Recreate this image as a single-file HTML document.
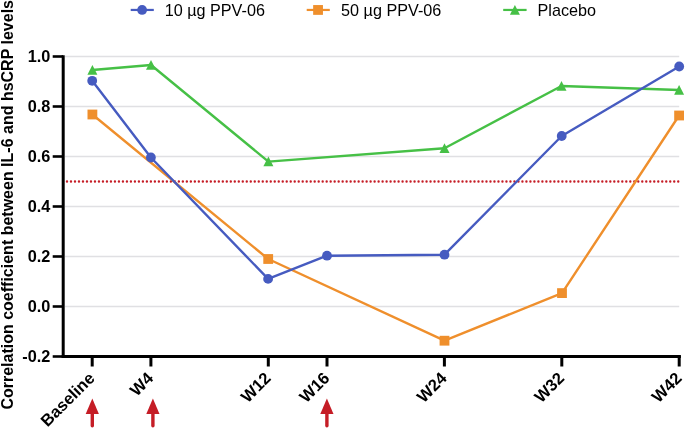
<!DOCTYPE html>
<html><head><meta charset="utf-8"><style>
html,body{margin:0;padding:0;background:#fff;}
svg{display:block;will-change:transform;}
text{font-family:"Liberation Sans",sans-serif;fill:#000;}
.t{font-weight:bold;font-size:16.3px;}
.x{font-weight:bold;font-size:16.6px;}
.y{font-weight:bold;font-size:16.0px;}
.r{font-size:16.2px;}
</style></head><body>
<svg width="685" height="429" viewBox="0 0 685 429">
<line x1="65" y1="56.50" x2="679.20" y2="56.50" stroke="#E0E0E3" stroke-width="1.3"/>
<line x1="65" y1="106.50" x2="679.20" y2="106.50" stroke="#E0E0E3" stroke-width="1.3"/>
<line x1="65" y1="156.50" x2="679.20" y2="156.50" stroke="#E0E0E3" stroke-width="1.3"/>
<line x1="65" y1="206.50" x2="679.20" y2="206.50" stroke="#E0E0E3" stroke-width="1.3"/>
<line x1="65" y1="256.50" x2="679.20" y2="256.50" stroke="#E0E0E3" stroke-width="1.3"/>
<line x1="65" y1="306.50" x2="679.20" y2="306.50" stroke="#E0E0E3" stroke-width="1.3"/>
<line x1="67" y1="181.5" x2="679.20" y2="181.5" stroke="#C51D26" stroke-width="2.4" stroke-dasharray="0 3.995" stroke-linecap="round"/>
<line x1="63.2" y1="55.20" x2="63.2" y2="358.00" stroke="#000" stroke-width="3"/>
<line x1="61.7" y1="356.50" x2="680.90" y2="356.50" stroke="#000" stroke-width="3.1"/>
<line x1="52.7" y1="56.50" x2="63" y2="56.50" stroke="#000" stroke-width="2.6"/>
<text x="50.3" y="62.20" text-anchor="end" class="t">1.0</text>
<line x1="52.7" y1="106.50" x2="63" y2="106.50" stroke="#000" stroke-width="2.6"/>
<text x="50.3" y="112.20" text-anchor="end" class="t">0.8</text>
<line x1="52.7" y1="156.50" x2="63" y2="156.50" stroke="#000" stroke-width="2.6"/>
<text x="50.3" y="162.20" text-anchor="end" class="t">0.6</text>
<line x1="52.7" y1="206.50" x2="63" y2="206.50" stroke="#000" stroke-width="2.6"/>
<text x="50.3" y="212.20" text-anchor="end" class="t">0.4</text>
<line x1="52.7" y1="256.50" x2="63" y2="256.50" stroke="#000" stroke-width="2.6"/>
<text x="50.3" y="262.20" text-anchor="end" class="t">0.2</text>
<line x1="52.7" y1="306.50" x2="63" y2="306.50" stroke="#000" stroke-width="2.6"/>
<text x="50.3" y="312.20" text-anchor="end" class="t">0.0</text>
<line x1="52.7" y1="356.50" x2="63" y2="356.50" stroke="#000" stroke-width="2.6"/>
<text x="50.3" y="362.20" text-anchor="end" class="t">-0.2</text>
<line x1="92.20" y1="356" x2="92.20" y2="366.5" stroke="#000" stroke-width="3"/>
<text x="95.70" y="379.30" text-anchor="end" class="x" transform="rotate(-45 95.70 379.30)">Baseline</text>
<line x1="150.90" y1="356" x2="150.90" y2="366.5" stroke="#000" stroke-width="3"/>
<text x="154.40" y="379.30" text-anchor="end" class="x" transform="rotate(-45 154.40 379.30)">W4</text>
<line x1="268.30" y1="356" x2="268.30" y2="366.5" stroke="#000" stroke-width="3"/>
<text x="271.80" y="379.30" text-anchor="end" class="x" transform="rotate(-45 271.80 379.30)">W12</text>
<line x1="327.00" y1="356" x2="327.00" y2="366.5" stroke="#000" stroke-width="3"/>
<text x="330.50" y="379.30" text-anchor="end" class="x" transform="rotate(-45 330.50 379.30)">W16</text>
<line x1="444.40" y1="356" x2="444.40" y2="366.5" stroke="#000" stroke-width="3"/>
<text x="447.90" y="379.30" text-anchor="end" class="x" transform="rotate(-45 447.90 379.30)">W24</text>
<line x1="561.80" y1="356" x2="561.80" y2="366.5" stroke="#000" stroke-width="3"/>
<text x="565.30" y="379.30" text-anchor="end" class="x" transform="rotate(-45 565.30 379.30)">W32</text>
<line x1="679.20" y1="356" x2="679.20" y2="366.5" stroke="#000" stroke-width="3"/>
<text x="682.70" y="379.30" text-anchor="end" class="x" transform="rotate(-45 682.70 379.30)">W42</text>
<line x1="92.30" y1="412" x2="92.30" y2="425.8" stroke="#C51D26" stroke-width="3.4" stroke-linecap="round"/>
<polygon points="92.30,398.6 98.90,413.9 85.70,413.9" fill="#C51D26"/>
<line x1="152.90" y1="412" x2="152.90" y2="425.8" stroke="#C51D26" stroke-width="3.4" stroke-linecap="round"/>
<polygon points="152.90,398.6 159.50,413.9 146.30,413.9" fill="#C51D26"/>
<line x1="326.90" y1="412" x2="326.90" y2="425.8" stroke="#C51D26" stroke-width="3.4" stroke-linecap="round"/>
<polygon points="326.90,398.6 333.50,413.9 320.30,413.9" fill="#C51D26"/>
<polyline points="92.40,70.00 151.00,65.00 268.40,161.60 444.50,148.20 561.50,86.00 679.10,90.00" fill="none" stroke="#46C046" stroke-width="2.4" stroke-linejoin="round"/>
<polyline points="92.40,114.50 268.20,259.00 444.50,340.70 562.00,293.10 679.10,115.50" fill="none" stroke="#EF8F2C" stroke-width="2.4" stroke-linejoin="round"/>
<polyline points="92.20,80.80 150.90,157.50 268.10,278.90 327.00,255.70 444.50,254.70 561.70,136.00 679.20,66.50" fill="none" stroke="#465BC0" stroke-width="2.4" stroke-linejoin="round"/>
<polygon points="92.40,65.00 97.40,74.70 87.40,74.70" fill="#46C046"/>
<polygon points="151.00,60.00 156.00,69.70 146.00,69.70" fill="#46C046"/>
<polygon points="268.40,156.60 273.40,166.30 263.40,166.30" fill="#46C046"/>
<polygon points="444.50,143.20 449.50,152.90 439.50,152.90" fill="#46C046"/>
<polygon points="561.50,81.00 566.50,90.70 556.50,90.70" fill="#46C046"/>
<polygon points="679.10,85.00 684.10,94.70 674.10,94.70" fill="#46C046"/>
<rect x="87.50" y="109.60" width="9.80" height="9.80" fill="#EF8F2C"/>
<rect x="263.30" y="254.10" width="9.80" height="9.80" fill="#EF8F2C"/>
<rect x="439.60" y="335.80" width="9.80" height="9.80" fill="#EF8F2C"/>
<rect x="557.10" y="288.20" width="9.80" height="9.80" fill="#EF8F2C"/>
<rect x="674.20" y="110.60" width="9.80" height="9.80" fill="#EF8F2C"/>
<circle cx="92.20" cy="80.80" r="4.90" fill="#465BC0"/>
<circle cx="150.90" cy="157.50" r="4.90" fill="#465BC0"/>
<circle cx="268.10" cy="278.90" r="4.90" fill="#465BC0"/>
<circle cx="327.00" cy="255.70" r="4.90" fill="#465BC0"/>
<circle cx="444.50" cy="254.70" r="4.90" fill="#465BC0"/>
<circle cx="561.70" cy="136.00" r="4.90" fill="#465BC0"/>
<circle cx="679.20" cy="66.50" r="4.90" fill="#465BC0"/>
<line x1="130.7" y1="9.95" x2="153.8" y2="9.95" stroke="#465BC0" stroke-width="2.2"/>
<circle cx="142.10" cy="9.95" r="4.90" fill="#465BC0"/>
<text x="164.7" y="15.6" class="r">10 µg PPV-06</text>
<line x1="306.7" y1="9.95" x2="329.8" y2="9.95" stroke="#EF8F2C" stroke-width="2.2"/>
<rect x="313.15" y="5.05" width="9.80" height="9.80" fill="#EF8F2C"/>
<text x="341.1" y="15.6" class="r">50 µg PPV-06</text>
<line x1="503.2" y1="9.95" x2="526.6" y2="9.95" stroke="#46C046" stroke-width="2.2"/>
<polygon points="514.90,4.95 519.90,14.65 509.90,14.65" fill="#46C046"/>
<text x="537.5" y="15.6" class="r">Placebo</text>
<text x="0" y="0" class="y" transform="translate(13.2,409.6) rotate(-90)">Correlation coefficient between IL-6 and hsCRP levels</text>
</svg>
</body></html>
